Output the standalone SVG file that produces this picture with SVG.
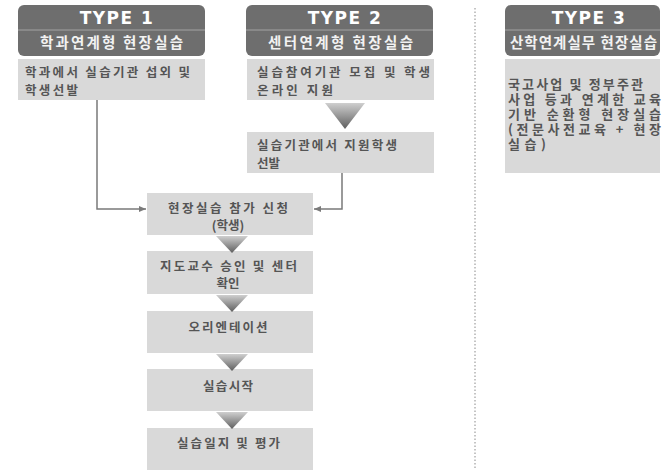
<svg xmlns="http://www.w3.org/2000/svg" width="663" height="470" viewBox="0 0 663 470">
<defs>
<linearGradient id="tri" x1="0" y1="0" x2="0" y2="1">
<stop offset="0" stop-color="#cfcfcf"/>
<stop offset="1" stop-color="#5e5e5e"/>
</linearGradient>
<marker id="arr" markerWidth="8" markerHeight="8" refX="7" refY="4" orient="auto" markerUnits="userSpaceOnUse">
<path d="M0,1 L7,4 L0,7 Z" fill="#7a7a7a"/>
</marker>
<style>
.hdr{fill:#6e6e6e}
.sep{stroke:#a3a3a3;stroke-width:1}
.type{font-family:"DejaVu Sans","Liberation Sans",sans-serif;font-weight:bold;font-size:17px;fill:#ffffff;text-anchor:middle;letter-spacing:1.5px}
.ktl{font-family:"Noto Sans CJK KR",sans-serif;font-weight:bold;font-size:14.5px;fill:#f2f2f2}
.box{fill:#d9d9d9}
.txt{font-family:"Noto Sans CJK KR",sans-serif;font-weight:bold;font-size:12.5px;fill:#555555}
.t3{font-size:13px}
.ctr{text-anchor:middle}
.tri{fill:url(#tri)}
.con{fill:none;stroke:#7a7a7a;stroke-width:1.5}
.div{stroke:#8a8a8a;stroke-width:1;stroke-dasharray:1.5 2}
</style>
</defs>

<line class="div" x1="475" y1="8" x2="475" y2="470"/>

<g id="type1-header">
<rect class="hdr" x="18" y="5" width="187" height="51" rx="6"/>
<line class="sep" x1="18" y1="30" x2="205" y2="30"/>
<text class="type" x="117" y="24">TYPE 1</text>
<text class="ktl" x="40" y="48" textLength="143" lengthAdjust="spacing">학과연계형 현장실습</text>
</g>
<g id="type1-step">
<rect class="box" x="18" y="59" width="187" height="41"/>
<text class="txt" x="25" y="77" textLength="165" lengthAdjust="spacing">학과에서 실습기관 섭외 및</text>
<text class="txt" x="25" y="95" textLength="53" lengthAdjust="spacing">학생선발</text>
</g>

<g id="type2-header">
<rect class="hdr" x="246" y="5" width="187" height="51" rx="6"/>
<line class="sep" x1="246" y1="30" x2="433" y2="30"/>
<text class="type" x="345" y="24">TYPE 2</text>
<text class="ktl" x="268" y="48" textLength="145" lengthAdjust="spacing">센터연계형 현장실습</text>
</g>
<g id="type2-step1">
<rect class="box" x="247" y="59" width="187" height="41"/>
<text class="txt" x="257" y="77" textLength="173" lengthAdjust="spacing">실습참여기관 모집 및 학생</text>
<text class="txt" x="257" y="95" textLength="76" lengthAdjust="spacing">온라인 지원</text>
</g>
<g id="type2-step2">
<rect class="box" x="247" y="132" width="187" height="41"/>
<text class="txt" x="257" y="150" textLength="140" lengthAdjust="spacing">실습기관에서 지원학생</text>
<text class="txt" x="257" y="168">선발</text>
</g>

<g id="type3-header">
<rect class="hdr" x="505" y="5" width="155" height="51" rx="6"/>
<line class="sep" x1="505" y1="30" x2="660" y2="30"/>
<text class="type" x="589" y="24">TYPE 3</text>
<text class="ktl" x="510" y="48" textLength="147" lengthAdjust="spacing">산학연계실무 현장실습</text>
</g>
<g id="type3-step">
<rect class="box" x="505" y="59" width="155" height="114"/>
<text class="txt t3" x="508" y="89" textLength="135" lengthAdjust="spacing">국고사업 및 정부주관</text>
<text class="txt t3" x="508" y="104" textLength="153" lengthAdjust="spacing">사업 등과 연계한 교육</text>
<text class="txt t3" x="508" y="119" textLength="153" lengthAdjust="spacing">기반 순환형 현장실습</text>
<text class="txt t3" x="508" y="134" textLength="153" lengthAdjust="spacing">(전문사전교육 + 현장</text>
<text class="txt t3" x="508" y="149" textLength="38" lengthAdjust="spacing">실습)</text>
</g>

<g id="step-apply">
<rect class="box" x="147" y="193" width="166" height="42"/>
<text class="txt ctr" x="228" y="213" textLength="120" lengthAdjust="spacing">현장실습 참가 신청</text>
<text class="txt ctr" x="228" y="230">(학생)</text>
</g>
<g id="step-approve">
<rect class="box" x="147" y="251" width="166" height="43"/>
<text class="txt ctr" x="228.5" y="271" textLength="137" lengthAdjust="spacing">지도교수 승인 및 센터</text>
<text class="txt ctr" x="228" y="288">확인</text>
</g>
<g id="step-orientation">
<rect class="box" x="147" y="311" width="166" height="42"/>
<text class="txt ctr" x="228" y="332" textLength="79" lengthAdjust="spacing">오리엔테이션</text>
</g>
<g id="step-start">
<rect class="box" x="147" y="369" width="166" height="42"/>
<text class="txt ctr" x="228" y="391" textLength="50" lengthAdjust="spacing">실습시작</text>
</g>
<g id="step-eval">
<rect class="box" x="147" y="428" width="166" height="42"/>
<text class="txt ctr" x="228.5" y="448" textLength="103" lengthAdjust="spacing">실습일지 및 평가</text>
</g>

<g id="connectors">
<polygon class="tri" points="325,103 365,103 345,129"/>
<polygon class="tri" points="216,236 248,236 232,253"/>
<polygon class="tri" points="216,295 248,295 232,312"/>
<polygon class="tri" points="216,354 248,354 232,371"/>
<polygon class="tri" points="216,412 248,412 232,429"/>
<path class="con" d="M97,100 V209 H146" marker-end="url(#arr)"/>
<path class="con" d="M342,173 V209 H314" marker-end="url(#arr)"/>
</g>
</svg>
